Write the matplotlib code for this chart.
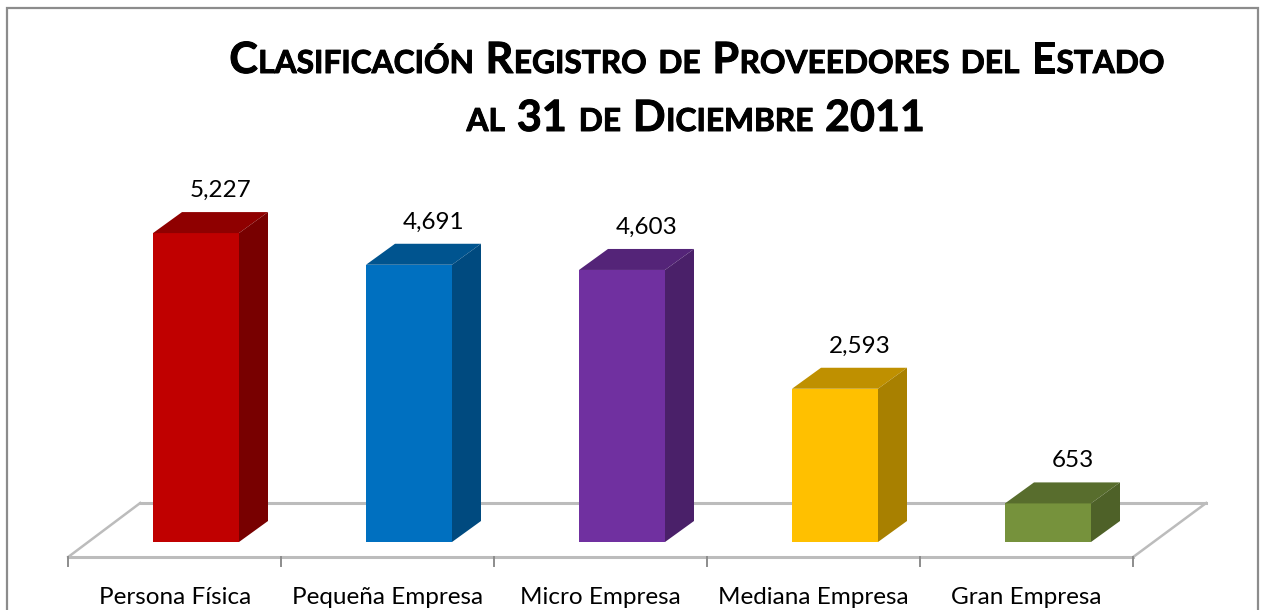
import matplotlib
matplotlib.use("Agg")
import matplotlib.pyplot as plt
import matplotlib.patheffects as pe
from matplotlib.patches import Rectangle

categorias = ["Persona Física", "Pequeña Empresa", "Micro Empresa", "Mediana Empresa", "Gran Empresa"]
valores = [5227, 4691, 4603, 2593, 653]
etiquetas = ["5,227", "4,691", "4,603", "2,593", "653"]
titulo = ["Clasificación Registro de Proveedores del Estado", "al 31 de Diciembre 2011"]

frente = ["#c00000", "#0070c0", "#7030a0", "#ffc000", "#76923c"]
tapa = ["#8f0000", "#00548f", "#542478", "#bf9000", "#586d2d"]
lado = ["#780000", "#004a7f", "#4a2069", "#a88000", "#4e6128"]

W, H = 1266, 610
PX_X = 213.0    # px per category
PX_Y = 0.0591   # px per value unit
X0, Y0 = 196, 542
ancho = 86 / PX_X
dx = 29 / PX_X
dy = 21 / PX_Y

plt.rcParams["font.family"] = ["Lato", "DejaVu Sans"]
fig = plt.figure(figsize=(W / 100, H / 100), dpi=100)
ax = fig.add_axes([0, 0, 1, 1])
ax.set_xlim(-X0 / PX_X, (W - X0) / PX_X)
ax.set_ylim(-(H - Y0) / PX_Y, Y0 / PX_Y)
ax.axis("off")

# marco
fig.add_artist(Rectangle((7 / W, -0.01), (1258 - 7) / W, (H - 8) / H + 0.01, transform=fig.transFigure,
                         fill=False, ec="#8c8c8c", lw=1.6))

# piso
gris = "#bcbcbc"
y_f = -15 / PX_Y
y_b = 39 / PX_Y
x_i = -0.6
x_d = 4.4
ax.plot([x_i, x_d], [y_f, y_f], color=gris, lw=2.2, zorder=1)
ax.plot([x_i + 72 / PX_X, x_d + 73 / PX_X], [y_b, y_b], color=gris, lw=2.2, zorder=1)
ax.plot([x_i, x_i + 72 / PX_X], [y_f, y_b], color=gris, lw=1.8, zorder=1)
ax.plot([x_d, x_d + 73 / PX_X], [y_f, y_b], color=gris, lw=1.8, zorder=1)
for i in range(6):
    ax.plot([x_i + i, x_i + i], [y_f, -24 / PX_Y], color="#8c8c8c", lw=1.4, zorder=1)

# barras
for i, v in enumerate(valores):
    l = i - ancho / 2
    r = i + ancho / 2
    ax.bar(i, v, width=ancho, color=frente[i], zorder=3)
    ax.fill([l, r, r + dx, l + dx], [v, v, v + dy, v + dy], color=tapa[i], lw=0, zorder=3)
    ax.fill([r, r + dx, r + dx, r], [0, dy, v + dy, v], color=lado[i], lw=0, zorder=3)
    ax.text(i + 25 / PX_X, v + dy + 15 / PX_Y, etiquetas[i], ha="center", va="baseline",
            fontsize=17.5, color="black", zorder=4)
    ax.text(i - 0.1, -62 / PX_Y, categorias[i], ha="center", va="baseline",
            fontsize=17.5, color="black", zorder=4)

# titulo en versalitas, palabra por palabra
fig.canvas.draw()
rend = fig.canvas.get_renderer()
GRANDE = 31
CHICA = 22.8
ESPACIO = 11.5
grueso = [pe.withStroke(linewidth=0.7, foreground="black")]


def trozos(palabra):
    out = []
    for c in palabra:
        t = c.upper()
        s = CHICA if c.islower() else GRANDE
        if out and out[-1][1] == s:
            out[-1][0] += t
        else:
            out.append([t, s])
    return out


def medir(t, s):
    tx = fig.text(0, 0, t, fontsize=s, fontweight="bold")
    w = tx.get_window_extent(rend).width
    tx.remove()
    return w


def linea(texto, centro, base):
    partes = []
    total = 0
    for palabra in texto.split():
        for t, s in trozos(palabra):
            w = medir(t, s) + 0.5
            partes.append((t, s, total))
            total += w
        total += ESPACIO
    total -= ESPACIO
    for t, s, off in partes:
        fig.text((centro - total / 2 + off) / W, (H - base) / H, t, fontsize=s, fontweight="bold",
                 color="black", ha="left", va="baseline", path_effects=grueso)


linea(titulo[0], 697, 73)
linea(titulo[1], 696, 131)

fig.savefig("out.png", dpi=100)
